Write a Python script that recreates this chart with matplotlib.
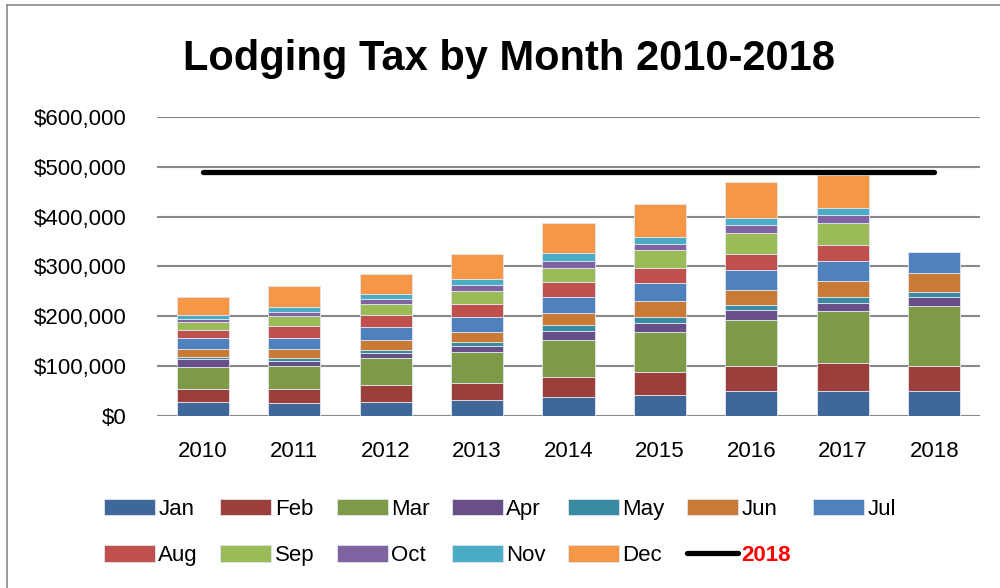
import numpy as np
import matplotlib
matplotlib.use('Agg')
import matplotlib.pyplot as plt
from matplotlib.lines import Line2D
from matplotlib.ticker import FuncFormatter

plt.rcParams['font.family'] = ['Liberation Sans', 'DejaVu Sans']

years = ['2010', '2011', '2012', '2013', '2014', '2015', '2016', '2017', '2018']
months = ['Jan', 'Feb', 'Mar', 'Apr', 'May', 'Jun',
          'Jul', 'Aug', 'Sep', 'Oct', 'Nov', 'Dec']

# monthly lodging tax, one list per month, one value per year
jan = [26700, 24700, 28000, 30700, 38000, 41300, 48800, 48800, 48800]
feb = [26000, 28000, 34000, 35300, 40700, 46000, 51500, 56200, 51500]
mar = [45300, 47300, 53300, 62000, 73300, 81300, 91700, 104400, 120400]
apr = [16000, 10000, 10700, 12000, 18700, 18000, 20100, 17400, 18100]
may = [4700, 5300, 6700, 8700, 11300, 12000, 10700, 10700, 10000]
jun = [15300, 18000, 20000, 20000, 24700, 32000, 29400, 34100, 38100]
jul = [21300, 23300, 25300, 29300, 32000, 35300, 41500, 38800, 42800]
aug = [17300, 23300, 24000, 26000, 29300, 30000, 31400, 32800, 0]
sep = [16000, 20700, 22000, 26000, 29300, 36700, 41500, 44800, 0]
oct_ = [5300, 7300, 10000, 12000, 12700, 13300, 17400, 14700, 0]
nov = [9300, 11300, 10700, 12000, 16000, 14000, 14000, 14700, 0]
dec = [36000, 41300, 40000, 50700, 60700, 64700, 72300, 66200, 0]

# 2018 reference line
line_2018 = [490000] * len(years)

colors = ['#3F6898', '#9C3E3B', '#7E9A47', '#684F87', '#3A8BA2', '#CB7A36',
          '#4F81BD', '#C0504D', '#9BBB59', '#8064A2', '#4BACC6', '#F79646']

series = [jan, feb, mar, apr, may, jun, jul, aug, sep, oct_, nov, dec]

fig = plt.figure(figsize=(10, 5.88), dpi=100)
ax = fig.add_axes([0.157, 0.293, 0.823, 0.508])

x = np.arange(len(years))
bottom = np.zeros(len(years))
handles = []
for name, vals, c in zip(months, series, colors):
    vals = np.array(vals, dtype=float)
    b = ax.bar(x, vals, 0.57, bottom=bottom, color=c, edgecolor='#dfe6ef',
               linewidth=0.6, label=name, zorder=3)
    handles.append(b)
    bottom += vals

ln, = ax.plot(x, line_2018, color='black', linewidth=3.8,
              solid_capstyle='round', zorder=4, label='2018')

ax.set_xlim(-0.5, len(years) - 0.5)
ax.set_ylim(0, 600000)
ax.set_yticks(np.arange(0, 600001, 100000))
ax.yaxis.set_major_formatter(FuncFormatter(lambda v, p: '${:,.0f}'.format(v)))
ax.set_xticks(x)
ax.set_xticklabels(years)
ax.tick_params(axis='both', length=0, labelsize=16)
ax.tick_params(axis='y', pad=22)
ax.tick_params(axis='x', pad=18)
ax.grid(axis='y', color='#898989', linewidth=1.5, zorder=0)
for s in ax.spines.values():
    s.set_visible(False)

fig.text(0.509, 1 - 59 / 588, 'Lodging Tax by Month 2010-2018',
         ha='center', va='center', fontsize=30, fontweight='bold')

# legend filled row-wise: Jan..Jul on row one, Aug..Dec + 2018 on row two
all_h = handles + [ln]
all_l = months + ['2018']
order = [0, 7, 1, 8, 2, 9, 3, 10, 4, 11, 5, 12, 6]
leg = fig.legend([all_h[i] for i in order], [all_l[i] for i in order],
                 ncol=7, loc='upper left', bbox_to_anchor=(0.104, 0.152),
                 frameon=False, fontsize=16, handlelength=2.3,
                 handleheight=0.75, handletextpad=0.15, columnspacing=1.0,
                 labelspacing=1.15, borderpad=0, borderaxespad=0)
for t in leg.get_texts():
    if t.get_text() == '2018':
        t.set_color('red')
        t.set_fontweight('bold')

# chart area border (top and left edges visible)
fig.add_artist(Line2D([7 / 1000, 7 / 1000], [0, 1 - 5 / 588],
                      transform=fig.transFigure, color='#898989', linewidth=1.2))
fig.add_artist(Line2D([7 / 1000, 1], [1 - 5 / 588, 1 - 5 / 588],
                      transform=fig.transFigure, color='#898989', linewidth=1.2))

fig.savefig('out.png', dpi=100)
